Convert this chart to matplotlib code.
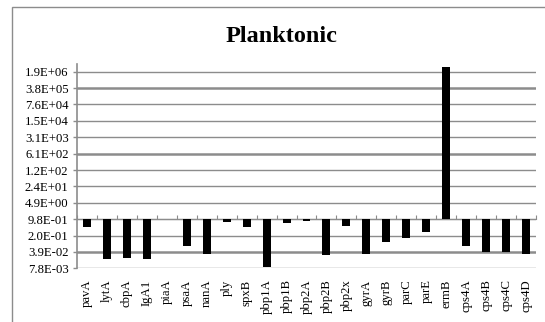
import numpy as np
import matplotlib
matplotlib.use("Agg")
import matplotlib.pyplot as plt
from matplotlib.patches import Rectangle
from matplotlib.ticker import FixedLocator, NullLocator

plt.rcParams['font.family'] = ['Liberation Serif', 'DejaVu Serif']

genes = ['pavA', 'lytA', 'cbpA', 'IgA1', 'piaA', 'psaA', 'nanA', 'ply', 'spxB',
         'pbp1A', 'pbp1B', 'pbp2A', 'pbp2B', 'pbp2x', 'gyrA', 'gyrB', 'parC',
         'parE', 'ermB', 'cps4A', 'cps4B', 'cps4C', 'cps4D']
fold = [0.43, 0.0193, 0.0225, 0.020, 0.95, 0.073, 0.033, 0.77, 0.43,
        0.0093, 0.66, 0.85, 0.030, 0.52, 0.033, 0.108, 0.16,
        0.29, 3.0e6, 0.067, 0.037, 0.037, 0.033]

# log-5 axis, crossing at 9.8E-01 like the spreadsheet default
base = 0.9765625
ytick_vals = [base * 5.0 ** k for k in range(-3, 10)]
ytick_labels = ['%.1E' % v for v in ytick_vals]

fig = plt.figure(figsize=(5.45, 3.22), dpi=100)
ax = fig.add_axes([0.1413, 0.1668, 0.8422, 0.6344])

x = np.arange(len(genes))
heights = [v - base for v in fold]
ax.bar(x, heights, bottom=base, width=0.4, color='black', zorder=3)

ax.set_yscale('log')
ax.set_ylim(ytick_vals[0], ytick_vals[-1] * 5.0 ** 0.47)
ax.set_xlim(-0.5, len(genes) - 0.5)

ax.yaxis.set_major_locator(FixedLocator(ytick_vals))
ax.yaxis.set_minor_locator(NullLocator())
ax.set_yticklabels(ytick_labels)
ax.tick_params(axis='y', direction='out', length=3, width=1, color='#8c8c8c',
               labelsize=9.2, pad=3)

ax.set_xticks(x)
ax.set_xticklabels(genes, rotation=90, va='top', ha='center')
ax.tick_params(axis='x', length=0, labelsize=9.2, pad=8)

ax.grid(axis='y', color='#8c8c8c', linewidth=1.0, zorder=0)
for i in (1, 7, 11):
    ax.get_ygridlines()[i].set_linewidth(1.8)

for side in ('top', 'right', 'bottom'):
    ax.spines[side].set_visible(False)
ax.spines['left'].set_color('#8c8c8c')
ax.spines['left'].set_linewidth(1.2)

# category axis drawn at the crossing value with small inward ticks
lo, hi = np.log(ax.get_ylim())
cross = (np.log(base) - lo) / (hi - lo)
sec = ax.secondary_xaxis(cross)
sec.set_xticks(np.arange(len(genes) + 1) - 0.5)
sec.tick_params(direction='in', length=3, color='#8c8c8c', labelbottom=False,
                labeltop=False)
sec.spines['bottom'].set_color('#8c8c8c')
sec.spines['top'].set_color('#8c8c8c')

fig.text(0.517, 0.888, 'Planktonic', ha='center', va='center',
         fontsize=17.5, fontweight='bold')

# chart area border
fig.patches.append(Rectangle((0.022, -0.05), 1.1, 0.05 + 0.978,
                             transform=fig.transFigure, fill=False,
                             edgecolor='#8c8c8c', linewidth=1.0))

fig.savefig('out.png', dpi=100)
